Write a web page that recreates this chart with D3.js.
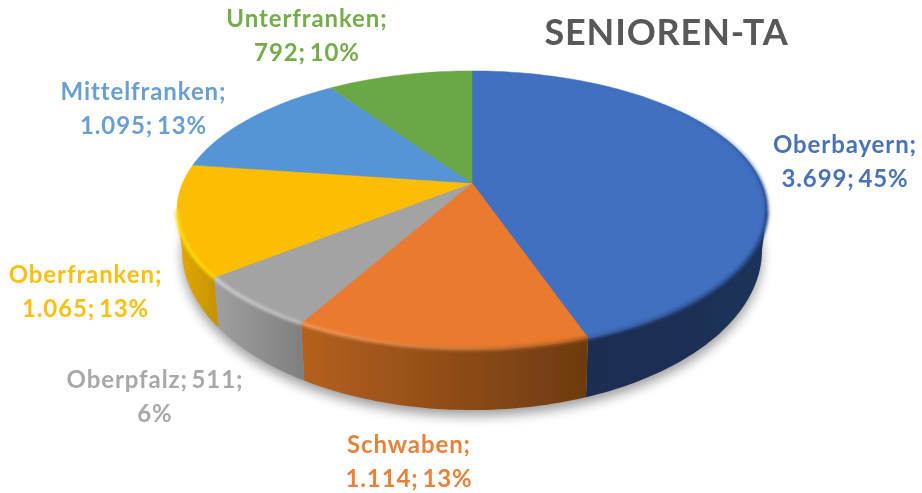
<!DOCTYPE html>
<html lang="de">
<head>
<meta charset="utf-8">
<title>Senioren-TA</title>
<script src="https://cdn.jsdelivr.net/npm/d3@7/dist/d3.min.js"></script>
<style>
  html, body { margin: 0; padding: 0; background: #fff; }
  svg { display: block; }
  text { font-family: Lato, "Open Sans", sans-serif; font-weight: 700; }
</style>
</head>
<body>
<div id="chart"></div>
<script>
// chart values, clockwise from twelve o'clock
const categories = ["Oberbayern", "Schwaben", "Oberpfalz", "Oberfranken", "Mittelfranken", "Unterfranken"];
const values = [3699, 1114, 511, 1065, 1095, 792];
const labelBreaks = ["name", "name", "value", "name", "name", "name"];
const chartTitle = "SENIOREN-TA";

// slice styling, same order as categories
const topColors = ["#3f6fbf", "#ea7a2d", "#a3a3a3", "#fdbd00", "#5795d5", "#6aa744"];
const labelColors = ["#4a72bd", "#e9813a", "#a8a8a8", "#fdbf11", "#6a9fd6", "#74ad4b"];
const wallLeft = ["#1a2d50", "#b5601f", "#a0a0a0", "#e6aa00", "#5795d5", "#6aa744"];
const wallRight = ["#1c3158", "#6d3a10", "#808080", "#c59500", "#5795d5", "#6aa744"];
const rimLeft = ["#3a62a8", "#f09a5a", "#d0d0d0", "#ffdc1a", "#5795d5", "#6aa744"];
const rimRight = ["#234482", "#a85a20", "#bcbcbc", "#ffd800", "#5795d5", "#6aa744"];

const width = 922;
const height = 493;
const cx = 472;
const tilt = 0.194; // perspective of the tilted disc
const topFace = { y0: 183, a: 289.4, b: 133.8 };
const bottomFace = { y0: 219, a: 284.5, b: 154 };
const labelAnchors = [
  { x: 845, y: 153 }, { x: 409, y: 453 }, { x: 155, y: 388 },
  { x: 85.5, y: 283 }, { x: 143.5, y: 100 }, { x: 307, y: 27 },
];

const deNumber = d3.formatLocale({ decimal: ",", thousands: ".", grouping: [3], currency: ["", " €"] }).format(",d");
const total = d3.sum(values);

function project(face, t) {
  const u = Math.sin(t);
  const v = -Math.cos(t);
  const w = 1 - tilt * v;
  return [cx + (face.a * u) / w, face.y0 + (face.b * v) / w];
}

function sampleArc(face, from, to) {
  const steps = Math.max(2, Math.ceil((to - from) / 0.02));
  return d3.range(steps + 1).map((i) => project(face, from + ((to - from) * i) / steps));
}

const pie = d3.pie().sort(null).value((d) => d.value);
const slices = pie(categories.map((name, i) => ({ name, value: values[i], index: i })));
const line = d3.line();

const svg = d3.select("#chart").append("svg").attr("width", width).attr("height", height);
const defs = svg.append("defs");

defs.append("filter").attr("id", "shadow-blur")
  .attr("x", "-10%").attr("y", "-10%").attr("width", "120%").attr("height", "120%")
  .append("feGaussianBlur").attr("stdDeviation", 6);
defs.append("filter").attr("id", "rim-blur")
  .attr("x", "-10%").attr("y", "-20%").attr("width", "120%").attr("height", "140%")
  .append("feGaussianBlur").attr("stdDeviation", 1.5);
defs.append("filter").attr("id", "soft")
  .append("feGaussianBlur").attr("stdDeviation", 0.55);

const visibleFrom = Math.acos(-tilt);
const visibleTo = 2 * Math.PI - visibleFrom;
const edgeFadeStart = 0.8; // dark edge on the blue slice fades in before the wall shows

function addGradient(id, x1, x2, c1, c2) {
  const g = defs.append("linearGradient").attr("id", id)
    .attr("gradientUnits", "userSpaceOnUse")
    .attr("x1", x1).attr("x2", x2).attr("y1", 0).attr("y2", 0);
  g.append("stop").attr("offset", 0).attr("stop-color", c1);
  g.append("stop").attr("offset", 1).attr("stop-color", c2);
}

// drop shadow under the disc
svg.append("path")
  .attr("d", line(sampleArc(bottomFace, 0, 2 * Math.PI)) + "Z")
  .attr("transform", "translate(0,6)")
  .attr("fill", "#000")
  .attr("opacity", 0.38)
  .attr("filter", "url(#shadow-blur)");

const disc = svg.append("g").attr("filter", "url(#soft)");

// side walls first, the top face covers their back half
slices.forEach((s) => {
  const from = Math.max(s.startAngle, visibleFrom);
  const to = Math.min(s.endAngle, visibleTo);
  if (to <= from) return;
  const i = s.data.index;
  const upper = sampleArc(topFace, from, to);
  const lower = sampleArc(bottomFace, from, to).reverse();
  const xs = upper.map((p) => p[0]);
  addGradient(`wall-${i}`, d3.min(xs), d3.max(xs), wallLeft[i], wallRight[i]);
  disc.append("path")
    .attr("d", line(upper.concat(lower)) + "Z")
    .attr("fill", `url(#wall-${i})`);
});

// top face
slices.forEach((s) => {
  const i = s.data.index;
  const rim = sampleArc(topFace, s.startAngle, s.endAngle);
  disc.append("path")
    .attr("d", line([[cx, topFace.y0]].concat(rim)) + "Z")
    .attr("fill", topColors[i])
    .attr("stroke", topColors[i])
    .attr("stroke-width", 0.5);
});

// bevel along the front edge
slices.forEach((s) => {
  const from = Math.max(s.startAngle, visibleFrom);
  const to = Math.min(s.endAngle, visibleTo);
  if (to <= from) return;
  const i = s.data.index;
  const rim = sampleArc(topFace, from, to);
  const xs = rim.map((p) => p[0]);
  addGradient(`rim-${i}`, d3.min(xs), d3.max(xs), rimLeft[i], rimRight[i]);
  disc.append("path")
    .attr("d", line(rim))
    .attr("fill", "none")
    .attr("stroke", `url(#rim-${i})`)
    .attr("stroke-width", 3.5)
    .attr("filter", "url(#rim-blur)");
});

// thin dark edge on the upper right of the blue slice, fading in
const edgeTop = project(topFace, edgeFadeStart);
const edgeEnd = project(topFace, visibleFrom);
const edgeGradient = defs.append("linearGradient").attr("id", "blue-edge")
  .attr("gradientUnits", "userSpaceOnUse")
  .attr("x1", 0).attr("x2", 0).attr("y1", edgeTop[1]).attr("y2", edgeEnd[1]);
edgeGradient.append("stop").attr("offset", 0).attr("stop-color", rimRight[0]).attr("stop-opacity", 0);
edgeGradient.append("stop").attr("offset", 1).attr("stop-color", rimRight[0]).attr("stop-opacity", 1);
disc.append("path")
  .attr("d", line(sampleArc(topFace, edgeFadeStart, visibleFrom)))
  .attr("fill", "none")
  .attr("stroke", "url(#blue-edge)")
  .attr("stroke-width", 3)
  .attr("filter", "url(#rim-blur)");

// data labels
const labels = svg.append("g")
  .attr("filter", "url(#soft)")
  .attr("font-size", 24)
  .attr("letter-spacing", 0.9)
  .attr("word-spacing", -3)
  .attr("text-anchor", "middle");
slices.forEach((s) => {
  const i = s.data.index;
  const pct = `${Math.round((s.data.value / total) * 100)}%`;
  const num = deNumber(s.data.value);
  const lines = labelBreaks[i] === "name"
    ? [`${s.data.name};`, `${num}; ${pct}`]
    : [`${s.data.name}; ${num};`, pct];
  const text = labels.append("text").attr("fill", labelColors[i]);
  lines.forEach((t, n) => {
    text.append("tspan")
      .attr("x", labelAnchors[i].x)
      .attr("y", labelAnchors[i].y + n * 33.5)
      .text(t);
  });
});

svg.append("text")
  .attr("x", 666.5)
  .attr("y", 45)
  .attr("text-anchor", "middle")
  .attr("font-size", 36)
  .attr("letter-spacing", 0.85)
  .attr("fill", "#595959")
  .attr("filter", "url(#soft)")
  .text(chartTitle);
</script>
</body>
</html>
